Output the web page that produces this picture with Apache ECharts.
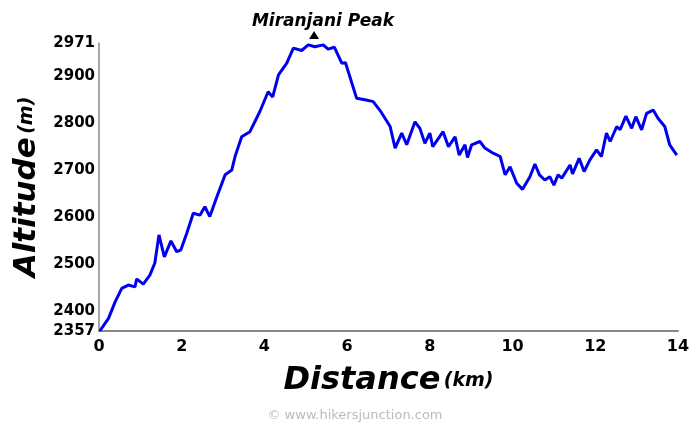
<!DOCTYPE html>
<html>
<head>
<meta charset="utf-8">
<script src="https://cdn.jsdelivr.net/npm/echarts@6/dist/echarts.min.js"></script>
<style>html,body{margin:0;padding:0;background:#fff}#chart{width:700px;height:426px}</style>
</head>
<body>
<div id="chart"></div>
<script>
// distance (km) and altitude (m)
var dist = [0.02,0.23,0.39,0.55,0.71,0.87,0.91,1.07,1.23,1.35,1.45,1.58,1.74,1.88,1.98,2.12,2.28,2.44,2.56,2.68,2.85,3.05,3.21,3.29,3.45,3.65,3.89,4.09,4.20,4.34,4.54,4.70,4.90,5.06,5.22,5.42,5.54,5.69,5.87,5.96,6.23,6.43,6.63,6.82,7.04,7.16,7.32,7.44,7.64,7.76,7.88,8.00,8.07,8.32,8.45,8.61,8.71,8.85,8.91,9.01,9.21,9.33,9.53,9.70,9.82,9.94,10.10,10.24,10.42,10.54,10.65,10.78,10.90,11.00,11.10,11.19,11.39,11.45,11.61,11.73,11.87,12.03,12.15,12.27,12.36,12.52,12.60,12.74,12.88,12.98,13.12,13.24,13.40,13.52,13.68,13.80,13.97];
var alt = [2357,2384,2419,2448,2455,2451,2468,2457,2476,2502,2562,2515,2549,2526,2530,2565,2608,2604,2622,2601,2643,2690,2700,2729,2771,2782,2825,2867,2856,2903,2928,2960,2955,2967,2963,2967,2958,2962,2928,2929,2853,2850,2846,2824,2793,2747,2779,2754,2803,2789,2757,2779,2750,2782,2750,2771,2732,2754,2727,2754,2761,2747,2736,2729,2690,2707,2672,2659,2686,2713,2690,2679,2686,2668,2690,2683,2711,2692,2725,2697,2722,2743,2729,2779,2761,2793,2786,2815,2789,2814,2786,2821,2828,2810,2793,2754,2732];
var yTicks = [2357,2400,2500,2600,2700,2800,2900,2971];
var peakName = 'Miranjani Peak';
var peak = [5.2, 2971];

var chart = echarts.init(document.getElementById('chart'));
var pts = dist.map(function(d, i) { return [d, alt[i]]; });
var option = {
	animation: false,
	grid: { left: 99, right: 22, top: 43, bottom: 95 },
	title: [{
		text: peakName, left: 318, top: 8, textAlign: 'center',
		textStyle: { fontFamily: 'DejaVu Sans', fontSize: 17, fontStyle: 'italic', fontWeight: 'bold', color: '#000' }
	}, {
		text: '© www.hikersjunction.com', left: 350, top: 404, textAlign: 'center',
		textStyle: { fontFamily: 'DejaVu Sans', fontSize: 13, fontWeight: 'normal', color: '#bbb' }
	}],
	xAxis: {
		type: 'value', min: 0, max: 14, interval: 2,
		axisLine: { lineStyle: { color: '#888', width: 2 } },
		axisTick: { show: false },
		splitLine: { show: false },
		axisLabel: { color: '#000', fontFamily: 'DejaVu Sans', fontWeight: 'bold', fontSize: 16, margin: 8 },
		name: '{a|Distance} {b|(km)}', nameLocation: 'middle', nameGap: 34,
		nameTextStyle: { rich: {
			a: { fontFamily: 'DejaVu Sans', fontSize: 32, fontStyle: 'italic', fontWeight: 'bold', color: '#000' },
			b: { fontFamily: 'DejaVu Sans', fontSize: 19, fontStyle: 'italic', fontWeight: 'bold', color: '#000' }
		} }
	},
	yAxis: {
		type: 'value', min: 2357, max: 2971,
		axisLine: { show: true, lineStyle: { color: '#888', width: 1.5 } },
		axisTick: { show: false },
		splitLine: { show: false },
		axisLabel: { customValues: yTicks, formatter: function(v) { return String(v); }, color: '#000', fontFamily: 'DejaVu Sans', fontWeight: 'bold', fontSize: 15, margin: 4 },
		name: '{a|Altitude} {b|(m)}', nameLocation: 'middle', nameGap: 56, nameRotate: 90,
		nameTextStyle: { rich: {
			a: { fontFamily: 'DejaVu Sans', fontSize: 31, fontStyle: 'italic', fontWeight: 'bold', color: '#000' },
			b: { fontFamily: 'DejaVu Sans', fontSize: 19, fontStyle: 'italic', fontWeight: 'bold', color: '#000' }
		} }
	},
	series: [{
		type: 'line', data: pts, showSymbol: false, smooth: false,
		lineStyle: { color: '#0000ee', width: 3 },
		markPoint: {
			symbol: 'triangle', symbolSize: [10, 8], symbolOffset: [0, -8],
			itemStyle: { color: '#000' }, label: { show: false },
			data: [{ coord: peak }]
		}
	}]
};
chart.setOption(option);
</script>
</body>
</html>
